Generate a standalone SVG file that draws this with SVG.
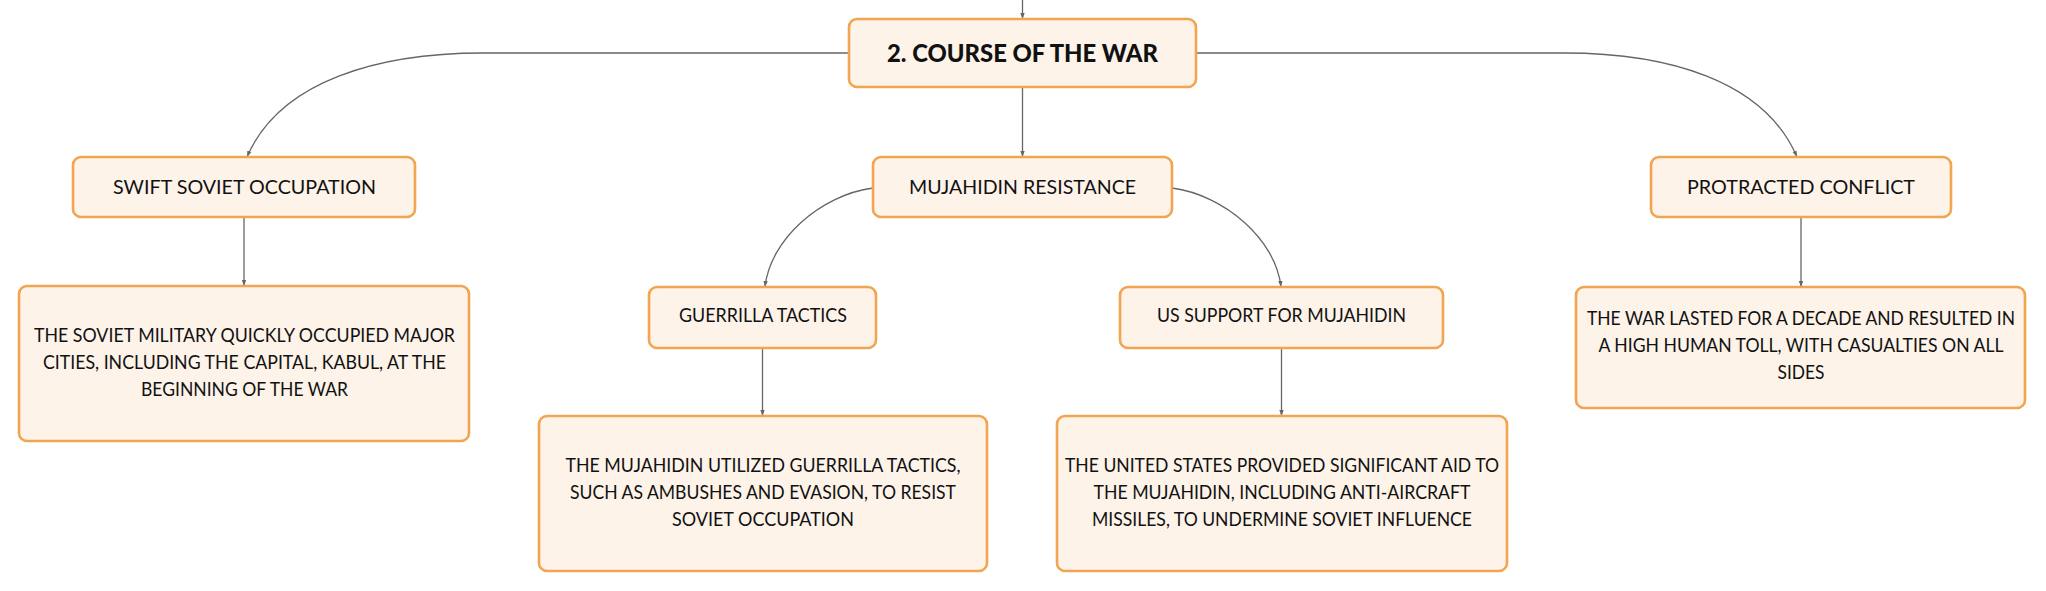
<svg xmlns="http://www.w3.org/2000/svg" width="2046" height="591" viewBox="0 0 2046 591">
<style>
.box{fill:#FDF3E9;stroke:#F2A550;stroke-width:2.6}
.t{font-family:Lato,"Open Sans","Liberation Sans",sans-serif;fill:#111;text-anchor:middle}
.lbl{font-size:19.5px}
.det{font-size:18.5px}
.root{font-size:24px;font-weight:900}
.c{fill:none;stroke:#666;stroke-width:1.3}
</style>
<defs>
<marker id="ah" viewBox="0 0 6 6" refX="6" refY="3" markerWidth="6" markerHeight="6" markerUnits="userSpaceOnUse" orient="auto">
<path d="M0,0.8 L6,3 L0,5.2 Z" fill="#666"/>
</marker>
</defs>
<rect width="2046" height="591" fill="#fff"/>
<g id="connectors">
<path class="c" d="M1022.5,0 L1022.5,19" marker-end="url(#ah)"/>
<path class="c" d="M849,53 L483,53 C380,53 280,80 247,157" marker-end="url(#ah)"/>
<path class="c" d="M1022.5,87 L1022.5,157" marker-end="url(#ah)"/>
<path class="c" d="M1196,53 L1564,53 C1667,53 1764,80 1797,157" marker-end="url(#ah)"/>
<path class="c" d="M244,217 L244,286" marker-end="url(#ah)"/>
<path class="c" d="M873,188 C820,195 770,240 765,287" marker-end="url(#ah)"/>
<path class="c" d="M1172,188 C1225,195 1276,240 1281,287" marker-end="url(#ah)"/>
<path class="c" d="M762.5,348 L762.5,416" marker-end="url(#ah)"/>
<path class="c" d="M1281.5,348 L1281.5,416" marker-end="url(#ah)"/>
<path class="c" d="M1801,217 L1801,287" marker-end="url(#ah)"/>
</g>
<g id="root">
<rect class="box" x="849" y="19" width="347" height="68" rx="8"/>
<text class="t root" x="1022.5" y="62" textLength="271" lengthAdjust="spacingAndGlyphs">2. COURSE OF THE WAR</text>
</g>
<g id="swift">
<rect class="box" x="73" y="157" width="342" height="60" rx="8"/>
<text class="t lbl" x="244.5" y="194" textLength="263" lengthAdjust="spacingAndGlyphs">SWIFT SOVIET OCCUPATION</text>
</g>
<g id="mujahidin">
<rect class="box" x="873" y="157" width="299" height="60" rx="8"/>
<text class="t lbl" x="1022.5" y="194" textLength="227" lengthAdjust="spacingAndGlyphs">MUJAHIDIN RESISTANCE</text>
</g>
<g id="protracted">
<rect class="box" x="1651" y="157" width="300" height="60" rx="8"/>
<text class="t lbl" x="1801" y="194" textLength="228" lengthAdjust="spacingAndGlyphs">PROTRACTED CONFLICT</text>
</g>
<g id="swift-detail">
<rect class="box" x="19" y="286" width="450" height="155" rx="8"/>
<text class="t det" x="244.5" y="342" textLength="421" lengthAdjust="spacingAndGlyphs">THE SOVIET MILITARY QUICKLY OCCUPIED MAJOR</text>
<text class="t det" x="244.5" y="369" textLength="403" lengthAdjust="spacingAndGlyphs">CITIES, INCLUDING THE CAPITAL, KABUL, AT THE</text>
<text class="t det" x="244.5" y="396" textLength="207" lengthAdjust="spacingAndGlyphs">BEGINNING OF THE WAR</text>
</g>
<g id="guerrilla">
<rect class="box" x="649" y="287" width="227" height="61" rx="8"/>
<text class="t lbl" x="763" y="322" textLength="168" lengthAdjust="spacingAndGlyphs">GUERRILLA TACTICS</text>
</g>
<g id="us-support">
<rect class="box" x="1120" y="287" width="323" height="61" rx="8"/>
<text class="t lbl" x="1281.5" y="322" textLength="249" lengthAdjust="spacingAndGlyphs">US SUPPORT FOR MUJAHIDIN</text>
</g>
<g id="guerrilla-detail">
<rect class="box" x="539" y="416" width="448" height="155" rx="8"/>
<text class="t det" x="763" y="472" textLength="395" lengthAdjust="spacingAndGlyphs">THE MUJAHIDIN UTILIZED GUERRILLA TACTICS,</text>
<text class="t det" x="763" y="499" textLength="386" lengthAdjust="spacingAndGlyphs">SUCH AS AMBUSHES AND EVASION, TO RESIST</text>
<text class="t det" x="763" y="526" textLength="182" lengthAdjust="spacingAndGlyphs">SOVIET OCCUPATION</text>
</g>
<g id="us-detail">
<rect class="box" x="1057" y="416" width="450" height="155" rx="8"/>
<text class="t det" x="1282" y="472" textLength="434" lengthAdjust="spacingAndGlyphs">THE UNITED STATES PROVIDED SIGNIFICANT AID TO</text>
<text class="t det" x="1282" y="499" textLength="377" lengthAdjust="spacingAndGlyphs">THE MUJAHIDIN, INCLUDING ANTI-AIRCRAFT</text>
<text class="t det" x="1282" y="526" textLength="380" lengthAdjust="spacingAndGlyphs">MISSILES, TO UNDERMINE SOVIET INFLUENCE</text>
</g>
<g id="protracted-detail">
<rect class="box" x="1576" y="287" width="449" height="121" rx="8"/>
<text class="t det" x="1801" y="325" textLength="428" lengthAdjust="spacingAndGlyphs">THE WAR LASTED FOR A DECADE AND RESULTED IN</text>
<text class="t det" x="1801" y="352" textLength="405" lengthAdjust="spacingAndGlyphs">A HIGH HUMAN TOLL, WITH CASUALTIES ON ALL</text>
<text class="t det" x="1801" y="379" textLength="47" lengthAdjust="spacingAndGlyphs">SIDES</text>
</g>
</svg>
